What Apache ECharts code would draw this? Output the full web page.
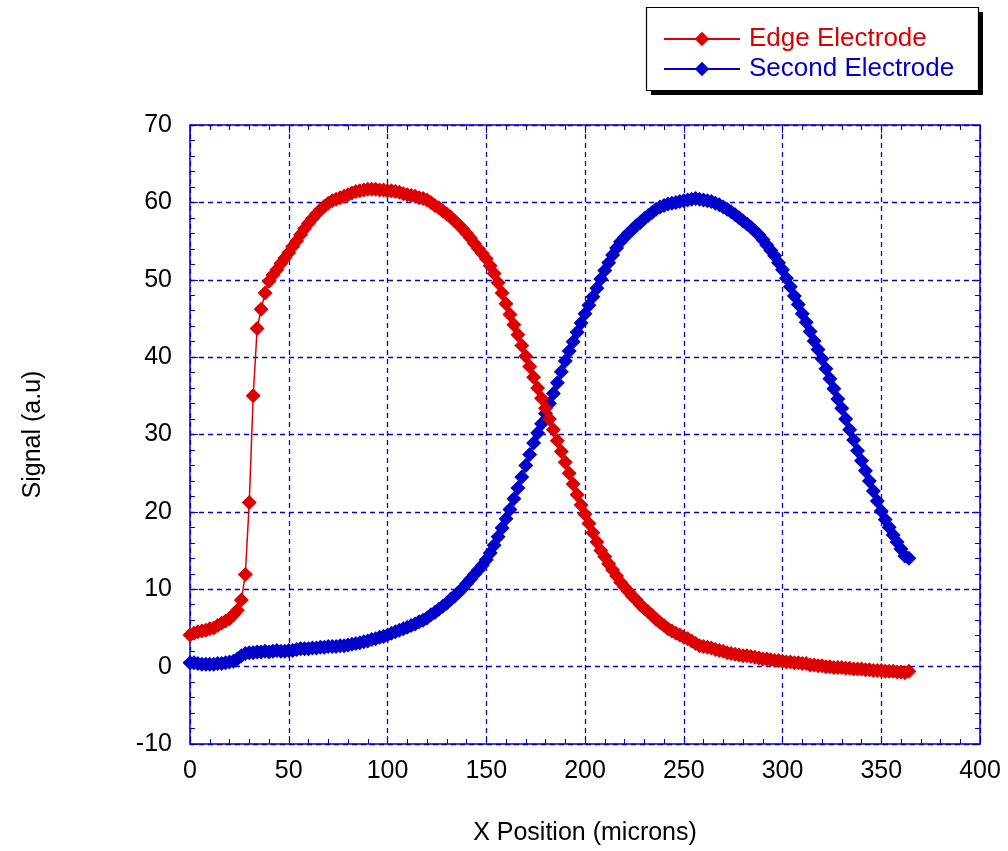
<!DOCTYPE html>
<html>
<head>
<meta charset="utf-8">
<script src="https://cdn.jsdelivr.net/npm/echarts@6/dist/echarts.min.js"></script>
<style>html,body{margin:0;padding:0;background:#fff;}#c{width:1008px;height:851px;}</style>
</head>
<body>
<div id="c"></div>
<script>
const xPositions = [0,2,4,6,8,10,12,14,16,18,20,22,24,26,28,30,32,34,36,38,40,42,44,46,48,50,52,54,56,58,60,62,64,66,68,70,72,74,76,78,80,82,84,86,88,90,92,94,96,98,100,102,104,106,108,110,112,114,116,118,120,122,124,126,128,130,132,134,136,138,140,142,144,146,148,150,152,154,156,158,160,162,164,166,168,170,172,174,176,178,180,182,184,186,188,190,192,194,196,198,200,202,204,206,208,210,212,214,216,218,220,222,224,226,228,230,232,234,236,238,240,242,244,246,248,250,252,254,256,258,260,262,264,266,268,270,272,274,276,278,280,282,284,286,288,290,292,294,296,298,300,302,304,306,308,310,312,314,316,318,320,322,324,326,328,330,332,334,336,338,340,342,344,346,348,350,352,354,356,358,360,362,364];

const edgeElectrode = [4.1,4.3,4.5,4.6,4.7,4.9,5.0,5.3,5.6,5.9,6.2,6.7,7.3,8.6,11.9,21.2,35.0,43.7,46.2,48.3,49.8,50.6,51.3,52.1,52.8,53.5,54.3,55.0,55.8,56.6,57.3,57.9,58.5,59.0,59.5,59.9,60.2,60.4,60.6,60.8,61.0,61.2,61.4,61.5,61.6,61.7,61.7,61.7,61.6,61.6,61.5,61.5,61.4,61.3,61.1,61.0,60.9,60.8,60.6,60.5,60.3,60.0,59.6,59.3,58.9,58.5,58.1,57.6,57.1,56.6,56.0,55.4,54.7,54.0,53.4,52.7,51.8,50.8,49.6,48.3,46.9,45.5,44.2,42.9,41.5,40.1,38.8,37.4,36.0,34.7,33.4,32.0,30.6,29.2,27.8,26.4,25.0,23.6,22.2,20.9,19.7,18.5,17.3,16.1,15.0,14.2,13.3,12.5,11.7,10.9,10.3,9.7,9.1,8.6,8.0,7.5,7.1,6.6,6.1,5.7,5.3,4.9,4.6,4.3,4.1,3.8,3.6,3.3,3.0,2.7,2.6,2.5,2.4,2.2,2.1,2.0,1.8,1.7,1.6,1.5,1.4,1.4,1.3,1.2,1.1,1.0,1.0,0.9,0.8,0.8,0.7,0.6,0.6,0.5,0.5,0.4,0.4,0.2,0.2,0.1,0.1,0.0,0.0,-0.1,-0.1,-0.1,-0.2,-0.2,-0.3,-0.3,-0.3,-0.4,-0.4,-0.5,-0.5,-0.5,-0.6,-0.6,-0.6,-0.7,-0.7,-0.8,-0.6];

const secondElectrode = [0.5,0.5,0.4,0.3,0.3,0.3,0.3,0.4,0.4,0.5,0.6,0.7,1.0,1.4,1.7,1.8,1.8,1.9,1.9,2.0,1.9,2.0,2.1,2.0,2.0,2.1,2.1,2.2,2.3,2.3,2.3,2.4,2.4,2.5,2.5,2.6,2.6,2.6,2.7,2.7,2.8,2.9,3.0,3.1,3.2,3.3,3.5,3.6,3.8,3.9,4.1,4.3,4.5,4.7,4.9,5.1,5.3,5.5,5.8,6.0,6.3,6.7,7.0,7.4,7.8,8.2,8.7,9.1,9.6,10.1,10.7,11.3,11.9,12.5,13.1,13.8,14.7,15.7,16.8,17.9,19.1,20.3,21.7,23.1,24.5,26.0,27.4,28.9,30.2,31.4,32.7,34.0,35.3,36.7,38.1,39.5,40.8,42.0,43.2,44.4,45.6,46.7,47.8,48.9,50.1,51.2,52.2,53.2,54.1,54.9,55.5,56.0,56.5,57.0,57.4,57.9,58.3,58.7,59.1,59.4,59.6,59.8,59.9,60.0,60.1,60.2,60.3,60.4,60.5,60.4,60.3,60.2,60.1,59.9,59.7,59.4,59.1,58.8,58.4,58.0,57.6,57.2,56.8,56.3,55.8,55.2,54.5,53.8,53.1,52.2,51.3,50.2,49.1,47.9,46.8,45.6,44.5,43.3,42.1,41.0,39.8,38.5,37.2,35.9,34.6,33.4,32.0,30.6,29.3,27.9,26.6,25.3,24.0,22.7,21.4,20.1,19.0,18.0,17.0,16.1,15.2,14.3,14.0];

const seriesNames = ['Edge Electrode', 'Second Electrode'];
const xAxisName = 'X Position (microns)';
const yAxisName = 'Signal (a.u)';

const RED = '#DD0000';
const BLUE = '#0000CC';
const FONT = '"Liberation Sans", Arial, sans-serif';

function pairs(xs, ys) {
  const n = Math.min(xs.length, ys.length);
  const out = [];
  for (let i = 0; i < n; i++) out.push([xs[i], ys[i]]);
  return out;
}

const axisCommon = {
  axisLine: { show: true, onZero: false, lineStyle: { color: BLUE, width: 1.5 } },
  axisTick: { show: true, inside: true, length: 8, lineStyle: { color: BLUE, width: 1 } },
  minorTick: { show: true, splitNumber: 5, length: 5, lineStyle: { color: BLUE, width: 1 } },
  splitLine: { show: false },
  minorSplitLine: { show: false }
};

const chart = echarts.init(document.getElementById('c'));
chart.setOption({
  backgroundColor: '#fff',
  animation: false,
  grid: { left: 190, right: 28, top: 125, bottom: 107, containLabel: false },
  graphic: [
    { type: 'rect', z: 0, silent: true, shape: { x: 651, y: 12, width: 332, height: 83 }, style: { fill: '#000' } },
    { type: 'rect', z: 1, silent: true, shape: { x: 646.5, y: 7.5, width: 332, height: 83 }, style: { fill: '#fff', stroke: '#000', lineWidth: 1.2 } }
  ],
  legend: {
    orient: 'vertical',
    left: 646,
    top: 10,
    z: 5,
    padding: [16, 24, 11, 17],
    itemGap: 4,
    itemWidth: 76,
    itemHeight: 18,
    textStyle: { fontFamily: FONT, fontSize: 26, padding: [0, 0, 0, 4] },
    data: [
      { name: seriesNames[0], textStyle: { color: RED } },
      { name: seriesNames[1], textStyle: { color: BLUE } }
    ]
  },
  xAxis: [
    Object.assign({}, axisCommon, {
      type: 'value', position: 'bottom', min: 0, max: 400, interval: 50,
      name: xAxisName, nameLocation: 'middle', nameGap: 77,
      nameTextStyle: { fontFamily: FONT, fontSize: 25, color: '#000' },
      axisLabel: { color: '#000', fontFamily: FONT, fontSize: 25, margin: 15 },
      splitLine: { show: true, lineStyle: { color: BLUE, width: 1.3, type: [5, 4] } }
    }),
    Object.assign({}, axisCommon, {
      type: 'value', position: 'top', min: 0, max: 400, interval: 50,
      axisLabel: { show: false }
    })
  ],
  yAxis: [
    Object.assign({}, axisCommon, {
      type: 'value', position: 'left', min: -10, max: 70, interval: 10,
      name: yAxisName, nameLocation: 'middle', nameGap: 144, nameRotate: 90,
      nameTextStyle: { fontFamily: FONT, fontSize: 25, color: '#000' },
      axisLabel: { color: '#000', fontFamily: FONT, fontSize: 25, margin: 18 },
      splitLine: { show: true, lineStyle: { color: BLUE, width: 1.3, type: [5, 4] } }
    }),
    Object.assign({}, axisCommon, {
      type: 'value', position: 'right', min: -10, max: 70, interval: 10,
      axisLabel: { show: false }
    })
  ],
  series: [
    {
      name: seriesNames[0], type: 'line', xAxisIndex: 0, yAxisIndex: 0,
      data: pairs(xPositions, edgeElectrode),
      symbol: 'diamond', symbolSize: 15,
      lineStyle: { color: RED, width: 1.5 },
      itemStyle: { color: RED },
      z: 3
    },
    {
      name: seriesNames[1], type: 'line', xAxisIndex: 0, yAxisIndex: 0,
      data: pairs(xPositions, secondElectrode),
      symbol: 'diamond', symbolSize: 15,
      lineStyle: { color: BLUE, width: 1.5 },
      itemStyle: { color: BLUE },
      z: 2
    }
  ]
});
</script>
</body>
</html>
